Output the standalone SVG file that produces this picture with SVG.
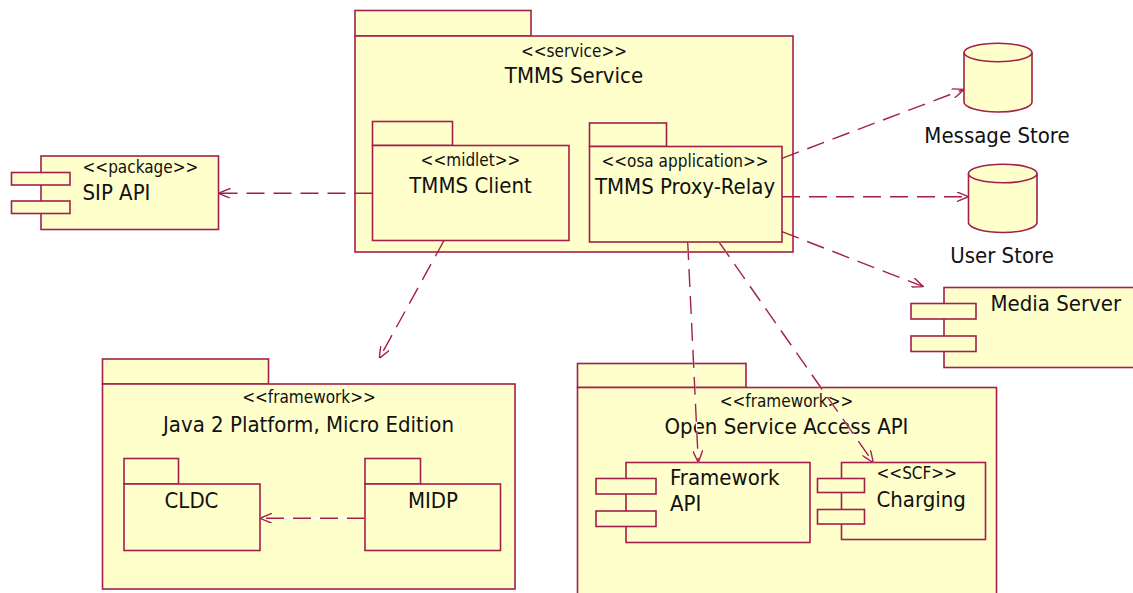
<svg xmlns="http://www.w3.org/2000/svg" width="1133" height="593" viewBox="0 0 1133 593">
<style>
.s{fill:#ffffcc;stroke:#a3204a;stroke-width:1.6}
.t{font-family:"DejaVu Sans Condensed","DejaVu Sans",sans-serif;font-stretch:condensed;fill:#111;font-size:22px}
.st{font-family:"DejaVu Sans Condensed","DejaVu Sans",sans-serif;font-stretch:condensed;fill:#111;font-size:17px}
.m{text-anchor:middle}
.bg{fill:none;stroke:#ffffff;stroke-width:1.4}
.c{fill:none;stroke:#a3204a;stroke-width:1.4;stroke-dasharray:18 9}
</style>
<defs>
<marker id="a" viewBox="0 0 12 10" refX="12" refY="5" markerWidth="12" markerHeight="10" orient="auto" markerUnits="userSpaceOnUse">
<path d="M0,0 L12,5 L0,10" fill="none" stroke="#a3204a" stroke-width="1.4" stroke-dasharray="none"/>
</marker>
</defs>
<rect width="1133" height="593" fill="#ffffff"/>

<g id="tmms-service">
<rect class="s" x="355" y="10.5" width="176" height="25.5"/>
<rect class="s" x="355" y="36" width="438" height="216"/>
<text class="st m" x="574" y="57">&lt;&lt;service&gt;&gt;</text>
<text class="t m" x="574" y="83">TMMS Service</text>
</g>

<g id="tmms-client">
<rect class="s" x="372.5" y="121.5" width="80" height="24"/>
<rect class="s" x="372.5" y="145.5" width="196.5" height="95"/>
<text class="st m" x="470.5" y="166">&lt;&lt;midlet&gt;&gt;</text>
<text class="t m" x="470.5" y="193">TMMS Client</text>
</g>

<g id="tmms-proxy-relay">
<rect class="s" x="589.5" y="123" width="77" height="23.5"/>
<rect class="s" x="589.5" y="146.5" width="192.5" height="95.5"/>
<text class="st m" x="685" y="167">&lt;&lt;osa application&gt;&gt;</text>
<text class="t m" x="685" y="194">TMMS Proxy-Relay</text>
</g>

<g id="sip-api">
<rect class="s" x="41" y="156" width="177.5" height="73.5"/>
<rect class="s" x="11.5" y="172.5" width="58.5" height="12.5"/>
<rect class="s" x="11.5" y="201" width="58.5" height="12.5"/>
<text class="st" x="82.5" y="173">&lt;&lt;package&gt;&gt;</text>
<text class="t" x="82.5" y="200">SIP API</text>
</g>

<g id="message-store">
<path class="s" d="M964,52.5 L964,102 A34,10 0 0 0 1032,102 L1032,52.5"/>
<ellipse class="s" cx="998" cy="52.5" rx="34" ry="9.3"/>
<text class="t m" x="997" y="142.5">Message Store</text>
</g>

<g id="user-store">
<path class="s" d="M968.5,173.5 L968.5,223 A34.3,10 0 0 0 1037,223 L1037,173.5"/>
<ellipse class="s" cx="1002.7" cy="173.5" rx="34.3" ry="9.3"/>
<text class="t m" x="1002" y="262.5">User Store</text>
</g>

<g id="media-server">
<rect class="s" x="944" y="287.5" width="200" height="80"/>
<rect class="s" x="911" y="303.5" width="65" height="15.5"/>
<rect class="s" x="911" y="336" width="65" height="15.5"/>
<text class="t" x="990.5" y="310.5">Media Server</text>
</g>

<g id="j2me">
<rect class="s" x="102.5" y="359" width="166" height="25"/>
<rect class="s" x="102.5" y="384" width="412.5" height="205"/>
<text class="st m" x="309" y="403">&lt;&lt;framework&gt;&gt;</text>
<text class="t m" x="308.5" y="431.5">Java 2 Platform, Micro Edition</text>
</g>

<g id="cldc">
<rect class="s" x="124" y="458.5" width="54.5" height="25.5"/>
<rect class="s" x="124" y="484" width="136" height="66.5"/>
<text class="t m" x="191.5" y="508">CLDC</text>
</g>

<g id="midp">
<rect class="s" x="365" y="458.5" width="55.5" height="25.5"/>
<rect class="s" x="365" y="484" width="135.5" height="66.5"/>
<text class="t m" x="433" y="508">MIDP</text>
</g>

<g id="osa">
<rect class="s" x="577.5" y="363.5" width="168.5" height="24"/>
<rect class="s" x="577.5" y="387.5" width="419" height="215"/>
<text class="st m" x="786.5" y="406.5">&lt;&lt;framework&gt;&gt;</text>
<text class="t m" x="786.5" y="434">Open Service Access API</text>
</g>

<g id="framework-api">
<rect class="s" x="626" y="462.5" width="184" height="80"/>
<rect class="s" x="596" y="478.5" width="60" height="15.5"/>
<rect class="s" x="596" y="511" width="60" height="15.5"/>
<text class="t" x="670" y="485">Framework</text>
<text class="t" x="670" y="511">API</text>
</g>

<g id="charging">
<rect class="s" x="841.5" y="462.5" width="144" height="77"/>
<rect class="s" x="817.5" y="478.5" width="47" height="14"/>
<rect class="s" x="817.5" y="509.5" width="47" height="14.5"/>
<text class="st" x="876.5" y="479">&lt;&lt;SCF&gt;&gt;</text>
<text class="t" x="876.5" y="506.5">Charging</text>
</g>

<g id="connectors">
<path class="c" d="M372.5,193.3 L218.5,193.3" marker-end="url(#a)"/>
<path class="c" d="M782,158.3 L964,89.3" marker-end="url(#a)"/>
<path class="c" d="M782,196.7 L968.5,196.7" marker-end="url(#a)"/>
<path class="c" d="M782,231.7 L923.5,286.7" marker-end="url(#a)"/>
<path class="c" d="M444,240.5 L379.3,358.3" marker-end="url(#a)"/>
<path class="bg" d="M687.7,242 L698.3,462.5"/>
<path class="c" d="M687.7,242 L698.3,462.5" marker-end="url(#a)"/>
<path class="bg" d="M719,242 L873.3,462.5"/>
<path class="c" d="M719,242 L873.3,462.5" marker-end="url(#a)"/>
<path class="bg" d="M365,518.3 L260,518.3"/>
<path class="c" d="M365,518.3 L260,518.3" marker-end="url(#a)"/>
</g>
</svg>
